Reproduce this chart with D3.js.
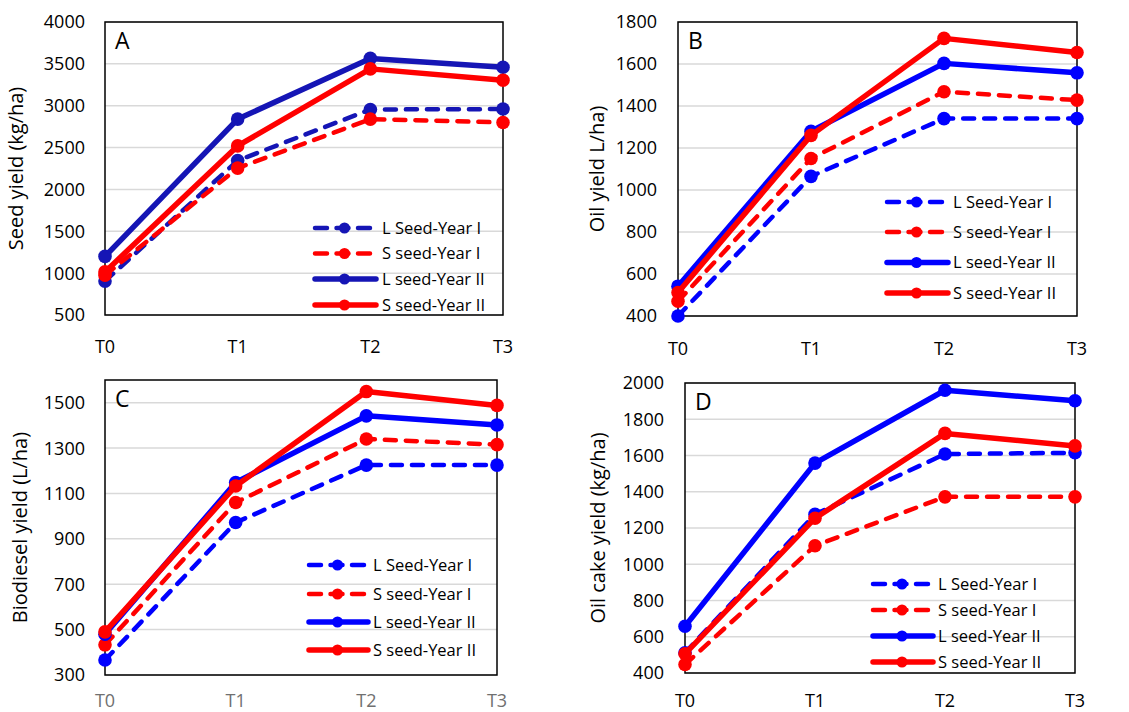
<!DOCTYPE html>
<html>
<head>
<meta charset="utf-8">
<script src="https://cdn.jsdelivr.net/npm/d3@7"></script>
<style>
  body { margin: 0; background: #fff; }
  text { font-family: "Open Sans", sans-serif; fill: #000; }
</style>
</head>
<body>
<div id="chart"></div>
<script>
// categories and series names
var treatments = ["T0", "T1", "T2", "T3"];
var seriesNames = ["L Seed-Year I", "S seed-Year I", "L seed-Year II", "S seed-Year II"];

// A - seed yield (kg/ha)
var seedL1 = [905, 2345, 2955, 2960];
var seedS1 = [975, 2255, 2840, 2800];
var seedL2 = [1200, 2840, 3565, 3460];
var seedS2 = [1015, 2520, 3440, 3305];

// B - oil yield (L/ha)
var oilL1 = [400, 1065, 1340, 1340];
var oilS1 = [470, 1150, 1468, 1428];
var oilL2 = [542, 1280, 1603, 1558];
var oilS2 = [512, 1260, 1722, 1655];

// C - biodiesel yield (L/ha)
var bioL1 = [366, 972, 1225, 1225];
var bioS1 = [433, 1060, 1340, 1315];
var bioL2 = [480, 1148, 1442, 1402];
var bioS2 = [490, 1133, 1549, 1488];

// D - oil cake yield (kg/ha)
var cakeL1 = [512, 1275, 1608, 1615];
var cakeS1 = [447, 1102, 1372, 1372];
var cakeL2 = [658, 1558, 1960, 1902];
var cakeS2 = [506, 1254, 1722, 1653];

// tick values
var seedTicks = [500, 1000, 1500, 2000, 2500, 3000, 3500, 4000];
var oilTicks = [400, 600, 800, 1000, 1200, 1400, 1600, 1800];
var bioTicks = [300, 500, 700, 900, 1100, 1300, 1500];
var cakeTicks = [400, 600, 800, 1000, 1200, 1400, 1600, 1800, 2000];

var svg = d3.select("#chart")
    .append("svg")
    .attr("width", 1129)
    .attr("height", 712);

var panels = [
    { letter: "A", title: "Seed yield (kg/ha)", data: [seedL1, seedS1, seedL2, seedS2],
      domain: [500, 4000], ticks: seedTicks, blue: "#1515b5",
      left: 105, right: 503, top: 22, bottom: 315,
      titleX: 16, tickX: 85, xLabelY: 353, xColor: "#000",
      legend: { x0: 313, x1: 376, text: 382, rows: [228, 253.5, 279, 305] } },
    { letter: "B", title: "Oil yield L/ha)", data: [oilL1, oilS1, oilL2, oilS2],
      domain: [400, 1800], ticks: oilTicks, blue: "#0000ff",
      left: 678, right: 1077, top: 22, bottom: 316,
      titleX: 597, tickX: 657, xLabelY: 355, xColor: "#000",
      legend: { x0: 885, x1: 948, text: 953, rows: [202, 232, 262.5, 293] } },
    { letter: "C", title: "Biodiesel yield (L/ha)", data: [bioL1, bioS1, bioL2, bioS2],
      domain: [300, 1600], ticks: bioTicks, blue: "#0000ff",
      left: 105, right: 497, top: 380, bottom: 675,
      titleX: 20, tickX: 85, xLabelY: 707, xColor: "#707070",
      legend: { x0: 307, x1: 368, text: 373, rows: [565, 594, 622, 650] } },
    { letter: "D", title: "Oil cake yield (kg/ha)", data: [cakeL1, cakeS1, cakeL2, cakeS2],
      domain: [400, 2000], ticks: cakeTicks, blue: "#0000ff",
      left: 685, right: 1075, top: 383, bottom: 673,
      titleX: 598, tickX: 664, xLabelY: 707, xColor: "#000",
      legend: { x0: 871, x1: 933, text: 938, rows: [584, 610, 636, 662] } }
];

var red = "#ff0000";

panels.forEach(function(p) {
    var g = svg.append("g");

    var x = d3.scalePoint()
        .domain(treatments)
        .range([p.left, p.right]);

    var y = d3.scaleLinear()
        .domain(p.domain)
        .range([p.bottom, p.top]);

    // gridlines
    g.selectAll(".grid")
        .data(p.ticks)
        .enter()
        .append("line")
        .attr("x1", p.left)
        .attr("x2", p.right)
        .attr("y1", d => y(d))
        .attr("y2", d => y(d))
        .attr("stroke", "#d9d9d9")
        .attr("stroke-width", 1.5);

    // y tick labels
    g.selectAll(".ytick")
        .data(p.ticks)
        .enter()
        .append("text")
        .attr("x", p.tickX)
        .attr("y", d => y(d))
        .attr("dy", "0.36em")
        .attr("text-anchor", "end")
        .style("font-size", "18px")
        .text(d => d);

    // x labels
    g.selectAll(".xtick")
        .data(treatments)
        .enter()
        .append("text")
        .attr("x", d => x(d))
        .attr("y", p.xLabelY)
        .attr("text-anchor", "middle")
        .style("font-size", "18px")
        .style("fill", p.xColor)
        .text(d => d);

    // y axis title
    g.append("text")
        .attr("transform", `translate(${p.titleX}, ${(p.top + p.bottom) / 2}) rotate(-90)`)
        .attr("text-anchor", "middle")
        .attr("dy", "0.36em")
        .style("font-size", "20px")
        .text(p.title);

    // frame
    g.append("rect")
        .attr("x", p.left)
        .attr("y", p.top)
        .attr("width", p.right - p.left)
        .attr("height", p.bottom - p.top)
        .attr("fill", "none")
        .attr("stroke", "#000")
        .attr("stroke-width", 1.5);

    // panel letter
    g.append("text")
        .attr("x", p.left + 10)
        .attr("y", p.top + 27)
        .style("font-size", "23px")
        .text(p.letter);

    var styles = [
        { color: p.blue, dash: "11,10", width: 4.5 },
        { color: red, dash: "11,10", width: 4.5 },
        { color: p.blue, dash: null, width: 5.5 },
        { color: red, dash: null, width: 5.5 }
    ];

    var line = d3.line()
        .x((d, i) => x(treatments[i]))
        .y(d => y(d));

    p.data.forEach(function(vals, k) {
        var s = styles[k];
        g.append("path")
            .datum(vals)
            .attr("d", line)
            .attr("fill", "none")
            .attr("stroke", s.color)
            .attr("stroke-width", s.width)
            .attr("stroke-linecap", s.dash ? "round" : "butt")
            .attr("stroke-linejoin", "round")
            .attr("stroke-dasharray", s.dash);

        g.selectAll(".pt" + k)
            .data(vals)
            .enter()
            .append("circle")
            .attr("cx", (d, i) => x(treatments[i]))
            .attr("cy", d => y(d))
            .attr("r", 6.8)
            .attr("fill", s.color);

        // legend entry
        var ly = p.legend.rows[k];
        var lg = g.append("g");
        lg.append("line")
            .attr("x1", p.legend.x0 + 2)
            .attr("x2", p.legend.x1)
            .attr("y1", ly)
            .attr("y2", ly)
            .attr("stroke", s.color)
            .attr("stroke-width", s.width)
            .attr("stroke-linecap", "round")
            .attr("stroke-dasharray", s.dash ? "12,9.5" : null);
        lg.append("circle")
            .attr("cx", (p.legend.x0 + p.legend.x1) / 2)
            .attr("cy", ly)
            .attr("r", 5.5)
            .attr("fill", s.color);
        lg.append("text")
            .attr("x", p.legend.text)
            .attr("y", ly)
            .attr("dy", "0.36em")
            .style("font-size", "16.5px")
            .text(seriesNames[k]);
    });
});
</script>
</body>
</html>
